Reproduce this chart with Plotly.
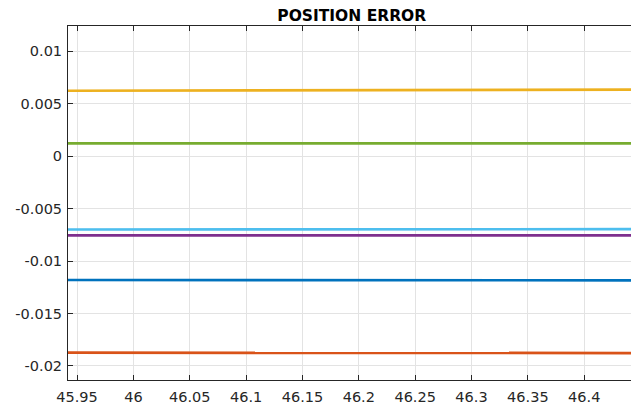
import plotly.graph_objects as go

# Time samples (s)
time_s = [45.94, 45.99, 46.04, 46.09, 46.14, 46.19, 46.24, 46.29, 46.34, 46.39, 46.45]

# Position error per axis
err_blue = [-0.01181, -0.01181, -0.01182, -0.01182, -0.01182, -0.01183, -0.01183, -0.01183, -0.01184, -0.01184, -0.01184]
err_orange = [-0.01873, -0.01873, -0.01874, -0.01874, -0.01874, -0.01875, -0.01875, -0.01876, -0.01876, -0.01876, -0.01877]
err_yellow = [0.00622, 0.00623, 0.00624, 0.00625, 0.00626, 0.00627, 0.00628, 0.00629, 0.00630, 0.00631, 0.00632]
err_purple = [-0.00755, -0.00755, -0.00755, -0.00755, -0.00755, -0.00755, -0.00755, -0.00755, -0.00755, -0.00755, -0.00755]
err_green = [0.00121, 0.00121, 0.00121, 0.00121, 0.00121, 0.00121, 0.00121, 0.00121, 0.00121, 0.00121, 0.00121]
err_cyan = [-0.00700, -0.00700, -0.00700, -0.00699, -0.00699, -0.00699, -0.00698, -0.00698, -0.00698, -0.00697, -0.00697]

series = [
    (err_blue, "#0072BD"),
    (err_orange, "#D95319"),
    (err_yellow, "#EDB120"),
    (err_purple, "#7E2F8E"),
    (err_green, "#77AC30"),
    (err_cyan, "#4DBEEE"),
]

x_ticks = [45.95, 46.0, 46.05, 46.1, 46.15, 46.2, 46.25, 46.3, 46.35, 46.4]
x_labels = ["45.95", "46", "46.05", "46.1", "46.15", "46.2", "46.25", "46.3", "46.35", "46.4"]
y_ticks = [0.01, 0.005, 0.0, -0.005, -0.01, -0.015, -0.02]
y_labels = ["0.01", "0.005", "0", "-0.005", "-0.01", "-0.015", "-0.02"]

fig = go.Figure()
for values, color in series:
    fig.add_trace(go.Scatter(
        x=time_s, y=values, mode="lines",
        line=dict(color=color, width=2.7),
        showlegend=False, hoverinfo="skip",
    ))

axis_color = "#262626"
grid_color = "#e3e3e3"
tick_font = dict(family="DejaVu Sans", size=14.5, color=axis_color)

fig.update_layout(
    width=631, height=406,
    margin=dict(l=68, r=0, t=26, b=26),
    paper_bgcolor="white", plot_bgcolor="white",
    title=dict(
        text="<b>POSITION ERROR</b>",
        font=dict(family="DejaVu Sans", size=15.5, color="black"),
        x=0.5575, xanchor="center", y=1 - 15.5 / 406, yanchor="middle",
    ),
)
fig.update_xaxes(
    range=[45.942, 46.4415],
    tickvals=x_ticks, ticktext=x_labels,
    ticks="inside", ticklen=5, tickcolor=axis_color, tickwidth=1,
    showline=True, linecolor=axis_color, linewidth=1, mirror="ticks",
    showgrid=True, gridcolor=grid_color, gridwidth=1,
    zeroline=False, tickfont=tick_font, ticklabelstandoff=4,
)
fig.update_yaxes(
    range=[-0.021336, 0.012386],
    tickvals=y_ticks, ticktext=y_labels,
    ticks="inside", ticklen=5, tickcolor=axis_color, tickwidth=1,
    showline=True, linecolor=axis_color, linewidth=1, mirror=False,
    showgrid=True, gridcolor=grid_color, gridwidth=1,
    zeroline=False, tickfont=tick_font, ticklabelstandoff=2,
)

fig.write_html("out.html")
